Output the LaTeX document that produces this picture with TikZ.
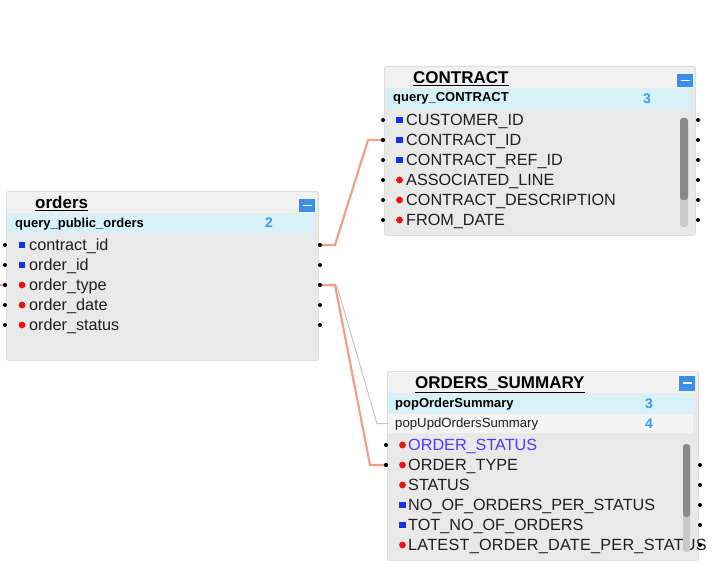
\documentclass[tikz,border=0pt]{standalone}
\usepackage{fontspec}
\setmainfont{Liberation Sans}
\definecolor{bodyc}{HTML}{E9E9E9}
\definecolor{edgec}{HTML}{DEDEDE}
\definecolor{hdrc}{HTML}{F1F1F1}
\definecolor{qc}{HTML}{D7F1F8}
\definecolor{q2c}{HTML}{F4F4F4}
\definecolor{pkblue}{HTML}{1133EE}
\definecolor{colred}{HTML}{F01010}
\definecolor{txtc}{HTML}{1E1E1E}
\definecolor{numblue}{HTML}{3A9BEF}
\definecolor{btnblue}{HTML}{3B8FE6}
\definecolor{salmon}{HTML}{F0A08A}
\definecolor{thinc}{HTML}{C4C4C4}
\definecolor{purp}{HTML}{5038FF}
\definecolor{trackc}{HTML}{C9C9C9}
\definecolor{thumbc}{HTML}{898989}
\begin{document}
\begin{tikzpicture}[x=1pt,y=-1pt,
  boxbg/.style={fill=bodyc,draw=edgec,line width=0.8,rounded corners=2,anchor=north west,inner sep=0},
  hdr/.style={fill=hdrc,anchor=north west,inner sep=0},
  qrow/.style={fill=qc,anchor=north west,inner sep=0},
  qrowb/.style={fill=q2c,anchor=north west,inner sep=0},
  dotn/.style={circle,fill=black,inner sep=0,minimum size=4},
  pk/.style={rectangle,fill=pkblue,inner sep=0,minimum size=6.5},
  colm/.style={circle,fill=colred,inner sep=0,minimum size=6.8},
  fieldtxt/.style={anchor=base west,inner sep=0,font=\fontsize{16.2}{19}\selectfont,text=txtc},
  titletxt/.style={anchor=base west,inner sep=0,font=\fontsize{17}{20}\selectfont\bfseries,text=black},
  qtxt/.style={anchor=base west,inner sep=0,font=\fontsize{13}{15}\selectfont\bfseries,text=black},
  q2txt/.style={anchor=base west,inner sep=0,font=\fontsize{13.2}{15}\selectfont,text=txtc},
  numtxt/.style={anchor=base,inner sep=0,font=\fontsize{14}{16}\selectfont\bfseries,text=numblue},
  minusbtn/.style={rectangle,fill=btnblue,inner sep=0,minimum width=16,minimum height=14,
    path picture={\draw[white,line width=1.6]
      ([xshift=3.5pt]path picture bounding box.west) -- ([xshift=-3.5pt]path picture bounding box.east);}},
  uline/.style={black,line width=1.1},
  conn/.style={draw=salmon,line width=2.2},
  thinconn/.style={draw=thinc,line width=1}
]
\useasboundingbox (0,0) rectangle (728,572);

% ---------------- orders ----------------
\node[boxbg,minimum width=312,minimum height=169] (obox) at (6,191) {};
\node[hdr,minimum width=310,minimum height=21] (ohdr) at (7,192) {};
\node[qrow,minimum width=306,minimum height=19] (oq) at (8,214) {};
\node[titletxt] (otitle) at (35,208) {orders};
\draw[uline] ([yshift=-2.6pt]otitle.base west) -- ([yshift=-2.6pt]otitle.base east);
\node[minusbtn,minimum height=13] (obtn) at (307,205.5) {};
\node[qtxt] (oqt) at (15,227) {query\_public\_orders};
\node[numtxt] (oqn) at (269,228) {2};

\node[pk] (o1i) at (22,245) {};
\node[fieldtxt] (o1t) at (29,250.5) {contract\_id};
\node[pk] (o2i) at (22,265) {};
\node[fieldtxt] (o2t) at (29,270.5) {order\_id};
\node[colm] (o3i) at (22,285) {};
\node[fieldtxt] (o3t) at (29,290.5) {order\_type};
\node[colm] (o4i) at (22,305) {};
\node[fieldtxt] (o4t) at (29,310.5) {order\_date};
\node[colm] (o5i) at (22,325) {};
\node[fieldtxt] (o5t) at (29,330.5) {order\_status};
\foreach \k/\yy in {1/245,2/265,3/285,4/305,5/325}{
  \node[dotn] (o\k l) at (5,\yy) {};
  \node[dotn] (o\k r) at (320,\yy) {};
}

% ---------------- CONTRACT ----------------
\node[boxbg,minimum width=311,minimum height=169] (cbox) at (384,66) {};
\node[hdr,minimum width=309,minimum height=21] (chdr) at (385,67) {};
\node[qrow,minimum width=305,minimum height=20] (cq) at (386,89) {};
\node[titletxt] (ctitle) at (413,83.3) {CONTRACT};
\draw[uline] ([yshift=-2.6pt]ctitle.base west) -- ([yshift=-2.6pt]ctitle.base east);
\node[minusbtn,minimum height=13] (cbtn) at (685,80.5) {};
\node[qtxt] (cqt) at (393,101.8) {query\_CONTRACT};
\node[numtxt] (cqn) at (647,103.3) {3};

\node[pk] (c1i) at (399.5,120) {};
\node[fieldtxt] (c1t) at (406,125.5) {CUSTOMER\_ID};
\node[pk] (c2i) at (399.5,140) {};
\node[fieldtxt] (c2t) at (406,145.5) {CONTRACT\_ID};
\node[pk] (c3i) at (399.5,160) {};
\node[fieldtxt] (c3t) at (406,165.5) {CONTRACT\_REF\_ID};
\node[colm] (c4i) at (399.5,180) {};
\node[fieldtxt] (c4t) at (406,185.5) {ASSOCIATED\_LINE};
\node[colm] (c5i) at (399.5,200) {};
\node[fieldtxt] (c5t) at (406,205.5) {CONTRACT\_DESCRIPTION};
\node[colm] (c6i) at (399.5,220) {};
\node[fieldtxt] (c6t) at (406,225.5) {FROM\_DATE};
\fill[trackc,rounded corners=3] (680,118) rectangle (688,227);
\fill[thumbc,rounded corners=3] (680,118) rectangle (688,200);
\foreach \k/\yy in {1/120,2/140,3/160,4/180,5/200,6/220}{
  \node[dotn] (c\k l) at (383,\yy) {};
  \node[dotn] (c\k r) at (698,\yy) {};
}

% ---------------- ORDERS_SUMMARY ----------------
\node[boxbg,minimum width=311,minimum height=189] (sbox) at (387,371) {};
\node[hdr,minimum width=309,minimum height=21] (shdr) at (388,372) {};
\node[qrow,minimum width=305,minimum height=19] (sq1) at (388,394) {};
\node[qrowb,minimum width=305,minimum height=19] (sq2) at (388,414) {};
\node[titletxt] (stitle) at (415,388.3) {ORDERS\_SUMMARY};
\draw[uline] ([yshift=-4.2pt]stitle.base west) -- ([yshift=-4.2pt]stitle.base east);
\node[minusbtn,minimum height=15] (sbtn) at (687,383) {};
\node[qtxt] (sq1t) at (395,407.7) {popOrderSummary};
\node[numtxt] (sq1n) at (649,408.3) {3};
\node[q2txt] (sq2t) at (395,427.7) {popUpdOrdersSummary};
\node[numtxt] (sq2n) at (649,428.3) {4};

\node[colm] (s1i) at (402.5,445) {};
\node[fieldtxt,text=purp] (s1t) at (408,450.5) {ORDER\_STATUS};
\node[colm] (s2i) at (402.5,465) {};
\node[fieldtxt] (s2t) at (408,470.5) {ORDER\_TYPE};
\node[colm] (s3i) at (402.5,485) {};
\node[fieldtxt] (s3t) at (408,490.5) {STATUS};
\node[pk] (s4i) at (402.5,505) {};
\node[fieldtxt] (s4t) at (408,510.5) {NO\_OF\_ORDERS\_PER\_STATUS};
\node[pk] (s5i) at (402.5,525) {};
\node[fieldtxt] (s5t) at (408,530.5) {TOT\_NO\_OF\_ORDERS};
\node[colm] (s6i) at (402.5,545) {};
\node[fieldtxt,font=\fontsize{16.2}{19}\selectfont\addfontfeature{LetterSpace=1.6}] (s6t) at (408,550.5) {LATEST\_ORDER\_DATE\_PER\_STATUS};
\fill[trackc,rounded corners=3] (683,444) rectangle (690,552);
\fill[thumbc,rounded corners=3] (683,444) rectangle (690,517);
\node[dotn] (s1l) at (386,445) {};
\node[dotn] (s2l) at (386,465) {};
\foreach \k/\yy in {2/465,3/485,4/505,5/525,6/545}{
  \node[dotn] (s\k r) at (700,\yy) {};
}

% ---------------- connectors ----------------
\draw[thinconn] (o3r.center) -- ++(17,1) -- ([xshift=-11pt]sq2.west) -- (sq2.west);
\draw[conn] (o1r.center) -- ++(15,0) -- ([xshift=-15pt]c2l.center) -- (c2l.center);
\draw[conn] (o3r.center) -- ++(15,0) -- ([xshift=-16pt]s2l.center) -- (s2l.center);
\coordinate (stubend) at (0,285);
\draw[conn] (o3l.center) -- (stubend);
\foreach \n in {o1r,o3r,o3l,c2l,s2l}{\node[dotn] at (\n.center) {};}
\end{tikzpicture}
\end{document}
